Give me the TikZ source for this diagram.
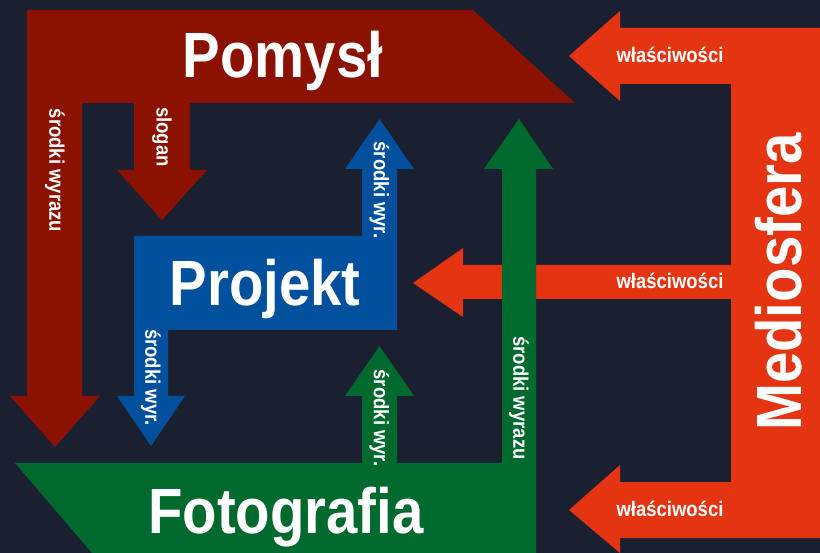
\documentclass[tikz,border=0pt]{standalone}
\usepackage{fontspec}
\setmainfont{Liberation Sans}[FakeStretch=0.88]

\definecolor{bgnavy}{RGB}{27,32,49}
\definecolor{pomred}{RGB}{139,18,0}
\definecolor{projblue}{RGB}{0,80,158}
\definecolor{fotogreen}{RGB}{0,106,46}
\definecolor{medorange}{RGB}{228,52,18}

\begin{document}
\begin{tikzpicture}[x=1pt,y=-1pt,
  big/.style={text=white,font=\bfseries\fontsize{64}{64}\selectfont,inner sep=0pt},
  small/.style={text=white,font=\bfseries\fontsize{21}{21}\selectfont,inner sep=0pt}]

  \fill[bgnavy] (0,0) rectangle (820,553);
  \useasboundingbox (0,0) rectangle (820,553);

  % Mediosfera
  \fill[medorange] (820,28) -- (620,28) -- (620,11) -- (569,56) -- (620,101) -- (620,84)
    -- (731,84) -- (731,265) -- (463,265) -- (463,248) -- (413,283) -- (463,317)
    -- (463,299) -- (731,299) -- (731,482) -- (620,482) -- (620,465) -- (569,510)
    -- (620,553) -- (620,538) -- (820,538) -- cycle;

  % Pomysl
  \fill[pomred] (27,10) -- (473,10) -- (575,103) -- (190,103) -- (190,170) -- (207,170)
    -- (162,220) -- (117,170) -- (134,170) -- (134,103) -- (82,103) -- (82,396)
    -- (100,396) -- (55,447) -- (10,396) -- (27,396) -- cycle;

  % Projekt
  \fill[projblue] (134,236) -- (362,236) -- (362,169) -- (345,169) -- (379.5,119)
    -- (414,169) -- (397,169) -- (397,330) -- (168,330) -- (168,396) -- (185,396)
    -- (151,446) -- (117,396) -- (134,396) -- cycle;

  % Fotografia
  \fill[fotogreen] (15,463) -- (362,463) -- (362,396) -- (345,396) -- (379.5,346)
    -- (414,396) -- (397,396) -- (397,463) -- (502,463) -- (502,169) -- (484,169)
    -- (519,119) -- (553,169) -- (536,169) -- (536,553) -- (92,553) -- cycle;

  \node[big,anchor=base] (pomysl) at (283,78) {Pomysł};

  \node[big,anchor=base] (projekt) at (265,306) {Projekt};

  \node[big,anchor=base] (foto) at (286,533) {Fotografia};

  \node[big,anchor=base,rotate=90] (medio) at (801,282) {Mediosfera};

  % Labels
  \node[small,anchor=base] (wlgora) at (670,63) {właściwości};
  \node[small,anchor=base] (wlsrodek) at (670,289) {właściwości};
  \node[small,anchor=base] (wldol) at (670,516) {właściwości};

  \node[small,rotate=-90] (srlewy) at (55,170.5) {środki wyrazu};
  \node[small,rotate=-90] (slogan) at (162,137) {slogan};
  \node[small,rotate=-90] (srgora) at (379.5,190) {środki wyr.};
  \node[small,rotate=-90] (srdol) at (151,377.5) {środki wyr.};
  \node[small,rotate=-90] (srmaly) at (379.5,418) {środki wyr.};
  \node[small,rotate=-90] (srprawy) at (519,398) {środki wyrazu};

\end{tikzpicture}
\end{document}
